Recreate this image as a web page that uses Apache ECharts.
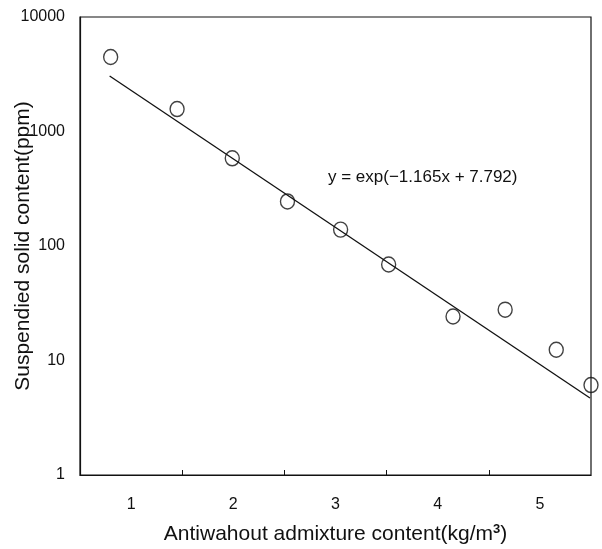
<!DOCTYPE html>
<html>
<head>
<meta charset="utf-8">
<script src="https://cdn.jsdelivr.net/npm/echarts@6/dist/echarts.min.js"></script>
<style>html,body{margin:0;padding:0;background:#fff}#c{width:602px;height:549px}</style>
</head>
<body>
<div id="c"></div>
<script>
// Measured points
var xValues = [0.80, 1.45, 1.99, 2.53, 3.05, 3.52, 4.15, 4.66, 5.16, 5.50];
var yValues = [4470, 1570, 583, 245, 139, 69, 24.2, 27.8, 12.4, 6.1];
// Fitted line endpoints as drawn
var fitX = [0.79, 5.49];
var fitY = [3050, 4.7];
// Axis ticks / labels
var xLabelValues = [1, 2, 3, 4, 5];
var xTickValues = [1.5, 2.5, 3.5, 4.5];
var yLabelValues = [1, 10, 100, 1000, 10000];
var equationText = 'y = exp(\u22121.165x + 7.792)';

var font = '"Liberation Sans", Arial, sans-serif';
var chart = echarts.init(document.getElementById('c'));
var scatterData = xValues.map(function (x, i) { return [x, yValues[i]]; });
var fitData = fitX.map(function (x, i) { return [x, fitY[i]]; });

chart.setOption({
  animation: false,
  backgroundColor: '#fff',
  grid: { left: 80, right: 11, top: 17, bottom: 74, containLabel: false, outerBoundsMode: 'none',
    show: true, borderColor: '#111', borderWidth: 1.2, backgroundColor: 'transparent' },
  xAxis: {
    type: 'value', min: 0.5, max: 5.5,
    name: 'Antiwahout admixture content(kg/m{sup|3})',
    nameLocation: 'middle', nameGap: 48,
    nameTextStyle: { fontFamily: font, fontSize: 21, color: '#111',
      rich: { sup: { fontFamily: font, fontSize: 13, fontWeight: 'bold', color: '#111', verticalAlign: 'top', padding: [0, 0, 9, 0] } } },
    axisLine: { show: true, lineStyle: { color: '#111', width: 1.2 } },
    axisTick: { show: true, inside: true, length: 5, customValues: xTickValues, lineStyle: { color: '#111' } },
    axisLabel: { customValues: xLabelValues, fontFamily: font, fontSize: 16, color: '#111', margin: 22 },
    splitLine: { show: false }
  },
  yAxis: {
    type: 'log', logBase: 10, min: 1, max: 10000,
    name: 'Suspendied solid content(ppm)',
    nameLocation: 'middle', nameGap: 46, nameMoveOverlap: false,
    nameTextStyle: { fontFamily: font, fontSize: 21, color: '#111' },
    axisLine: { show: true, lineStyle: { color: '#111', width: 1.2 } },
    axisTick: { show: false },
    axisLabel: { customValues: yLabelValues, fontFamily: font, fontSize: 16, color: '#111', margin: 15,
      formatter: function (v) { return String(Math.round(v)); } },
    splitLine: { show: false }
  },
  graphic: [{
    type: 'text', left: 328, top: 169,
    style: { text: equationText, font: '17px ' + font, fill: '#111' }
  }],
  series: [{
    type: 'line', data: fitData, symbol: 'none',
    lineStyle: { color: '#111', width: 1.3 }, z: 2
  }, {
    type: 'scatter', data: scatterData, symbol: 'circle', symbolSize: [14, 15],
    itemStyle: { color: 'rgba(255,255,255,0)', borderColor: '#111', borderWidth: 1.4 }, z: 3
  }]
});
</script>
</body>
</html>
